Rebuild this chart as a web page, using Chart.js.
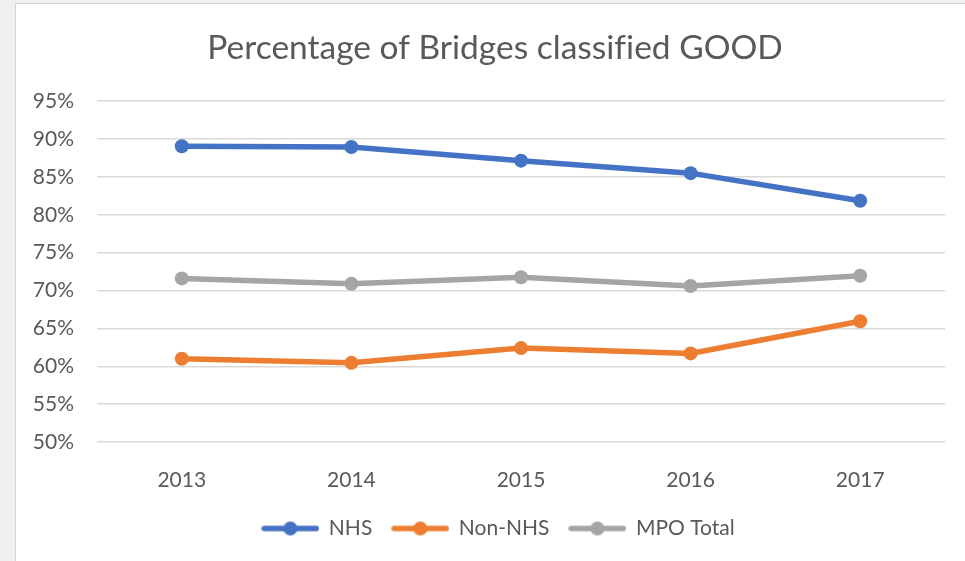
<!DOCTYPE html>
<html>
<head>
<meta charset="utf-8">
<script src="https://cdn.jsdelivr.net/npm/chart.js@4.4.0/dist/chart.umd.min.js"></script>
<style>
  html, body { margin: 0; padding: 0; background: #f0f0f0; width: 965px; height: 561px; overflow: hidden; }
  #box { position: absolute; left: 15px; top: 3px; width: 950px; height: 558px; background: #fff;
         border-left: 1px solid #d4d4d4; border-top: 1px solid #d4d4d4; }
  #myChart { display: block; }
</style>
</head>
<body>
<div id="box"><canvas id="myChart" width="949" height="557"></canvas></div>
<script>
var years = ['2013', '2014', '2015', '2016', '2017'];
var nhs = [89.05, 88.95, 87.15, 85.5, 81.85];
var nonNhs = [61.0, 60.45, 62.4, 61.7, 65.95];
var mpoTotal = [71.6, 70.9, 71.75, 70.6, 71.95];
var seriesNames = ['NHS', 'Non-NHS', 'MPO Total'];
var colors = ['#4472C4', '#ED7D31', '#A5A5A5'];

var textColor = '#595959';
var fontFam = 'Lato, "Open Sans", sans-serif';

// little line + dot markers for the legend, like excel
function legendMarker(color) {
    var c = document.createElement('canvas');
    c.width = 58;
    c.height = 16;
    var x = c.getContext('2d');
    x.strokeStyle = color;
    x.lineWidth = 5.5;
    x.lineCap = 'round';
    x.beginPath();
    x.moveTo(3, 8);
    x.lineTo(55, 8);
    x.stroke();
    x.fillStyle = color;
    x.beginPath();
    x.arc(29, 8, 7, 0, Math.PI * 2);
    x.fill();
    return c;
}

var allData = [nhs, nonNhs, mpoTotal];
var datasets = [];
for (var i = 0; i < allData.length; i++) {
    datasets.push({
        label: seriesNames[i],
        data: allData[i],
        borderColor: colors[i],
        backgroundColor: colors[i],
        borderWidth: 5.5,
        pointRadius: 7,
        pointHoverRadius: 7,
        pointBorderWidth: 0,
        tension: 0
    });
}

// no "fi" ligature, and push title + legend a bit right (excel centres them that way)
var tweaks = {
    id: 'tweaks',
    afterLayout: function(chart) {
        if (chart.titleBlock) chart.titleBlock.left += 29;
        if (chart.legend) chart.legend.left += 36;
    },
    beforeDraw: function(chart) {
        chart.ctx.textRendering = 'optimizeSpeed';
    }
};

var ctx = document.getElementById('myChart').getContext('2d');
var myChart = new Chart(ctx, {
    type: 'line',
    data: {
        labels: years,
        datasets: datasets
    },
    plugins: [tweaks],
    options: {
        responsive: false,
        animation: false,
        layout: { padding: { left: 0, right: 20, top: 0, bottom: 12 } },
        plugins: {
            title: {
                display: true,
                text: 'Percentage of Bridges classified GOOD',
                color: textColor,
                font: { family: fontFam, size: 33.5, weight: 'normal' },
                padding: { top: 24, bottom: 33 }
            },
            legend: {
                position: 'bottom',
                labels: {
                    color: textColor,
                    font: { family: fontFam, size: 21 },
                    usePointStyle: true,
                    pointStyleWidth: 56,
                    padding: 20,
                    generateLabels: function(chart) {
                        return chart.data.datasets.map(function(ds, idx) {
                            return {
                                text: ds.label,
                                pointStyle: legendMarker(ds.borderColor),
                                fillStyle: ds.borderColor,
                                strokeStyle: ds.borderColor,
                                lineWidth: 0,
                                fontColor: textColor,
                                datasetIndex: idx
                            };
                        });
                    }
                }
            },
            tooltip: { enabled: false }
        },
        scales: {
            x: {
                offset: true,
                grid: { display: false },
                border: { display: false },
                ticks: {
                    color: textColor,
                    font: { family: fontFam, size: 21 },
                    padding: 18,
                    maxRotation: 0
                },
                afterFit: function(scale) { scale.height = 56; }
            },
            y: {
                min: 50,
                max: 95,
                grid: { color: '#d9d9d9', lineWidth: 1.5, drawTicks: false },
                border: { display: false },
                ticks: {
                    stepSize: 5,
                    color: textColor,
                    font: { family: fontFam, size: 21 },
                    padding: 23,
                    callback: function(v) { return v + '%'; }
                },
                afterFit: function(scale) { scale.width = 81; }
            }
        }
    }
});
</script>
</body>
</html>
